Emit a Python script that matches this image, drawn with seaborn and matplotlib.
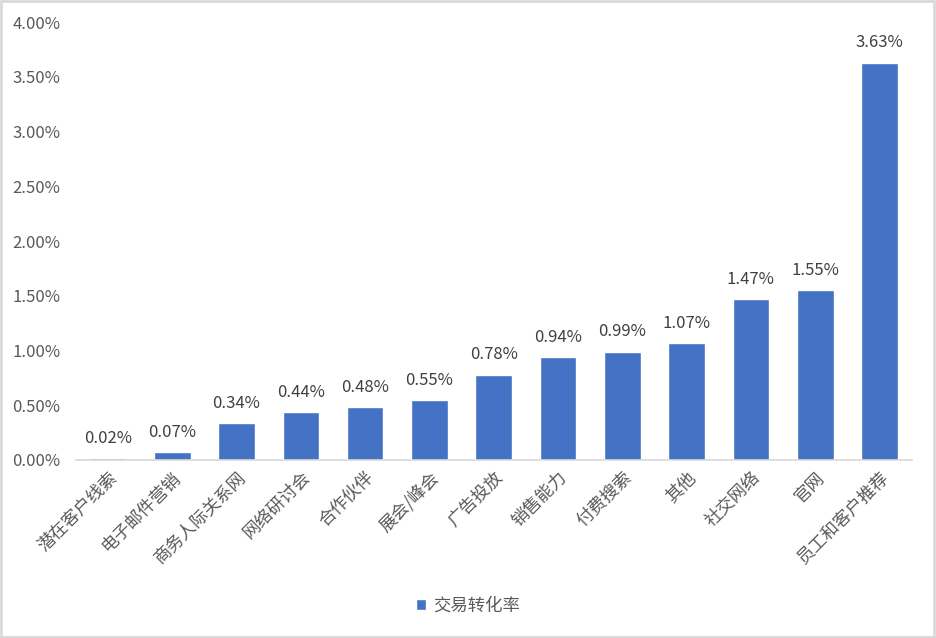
import matplotlib
matplotlib.use("Agg")
import matplotlib.pyplot as plt
import seaborn as sns
import pandas as pd
from matplotlib.ticker import FuncFormatter
from matplotlib.patches import Rectangle

categories = ["潜在客户线索", "电子邮件营销", "商务人际关系网", "网络研讨会", "合作伙伴", "展会/峰会",
              "广告投放", "销售能力", "付费搜索", "其他", "社交网络", "官网", "员工和客户推荐"]
values = [0.02, 0.07, 0.34, 0.44, 0.48, 0.55, 0.78, 0.94, 0.99, 1.07, 1.47, 1.55, 3.63]
series_name = "交易转化率"
y_ticks = [0.0, 0.5, 1.0, 1.5, 2.0, 2.5, 3.0, 3.5, 4.0]

sns.set_theme(style="white")
plt.rcParams["font.family"] = ["Noto Sans CJK SC", "DejaVu Sans"]

df = pd.DataFrame({"cat": categories, "val": values})

fig = plt.figure(figsize=(9.36, 6.38), dpi=100)
ax = fig.add_axes([0.081, 0.279, 0.893, 0.6865])

sns.barplot(data=df, x="cat", y="val", color="#4472C4", saturation=1, width=0.57,
            label=series_name, ax=ax, legend=False)

ax.set_ylim(0, 4.0)
ax.set_yticks(y_ticks)
ax.yaxis.set_major_formatter(FuncFormatter(lambda v, p: f"{v:.2f}%"))
ax.set_xlim(-0.5, len(categories) - 0.5)
ax.set_xlabel("")
ax.set_ylabel("")

for s in ["top", "right", "left"]:
    ax.spines[s].set_visible(False)
ax.spines["bottom"].set_color("#d9d9d9")
ax.spines["bottom"].set_linewidth(1.2)

ax.tick_params(axis="y", length=0, labelsize=12, labelcolor="#595959", pad=11)
ax.tick_params(axis="x", length=0, labelsize=12.5, labelcolor="#595959", pad=6)
for lbl in ax.get_xticklabels():
    lbl.set_rotation(45)
    lbl.set_ha("right")
    lbl.set_rotation_mode("anchor")

for i, v in enumerate(values):
    ax.annotate(f"{v:.2f}%", (i, v), xytext=(0, 8), textcoords="offset points",
                ha="center", va="bottom", fontsize=12, color="#404040")

handles, labels = ax.get_legend_handles_labels()
fig.legend(handles[:1], labels[:1], loc="center", bbox_to_anchor=(0.5, 1 - 606 / 638),
           frameon=False, fontsize=12.5, handlelength=0.6, handleheight=0.6,
           handletextpad=0.4, labelcolor="#595959")

fig.patches.append(Rectangle((0.001, 0.001), 0.997, 0.997, transform=fig.transFigure,
                             fill=False, edgecolor="#d9d9d9", linewidth=2))

fig.savefig("out.png", dpi=100, facecolor="white")
